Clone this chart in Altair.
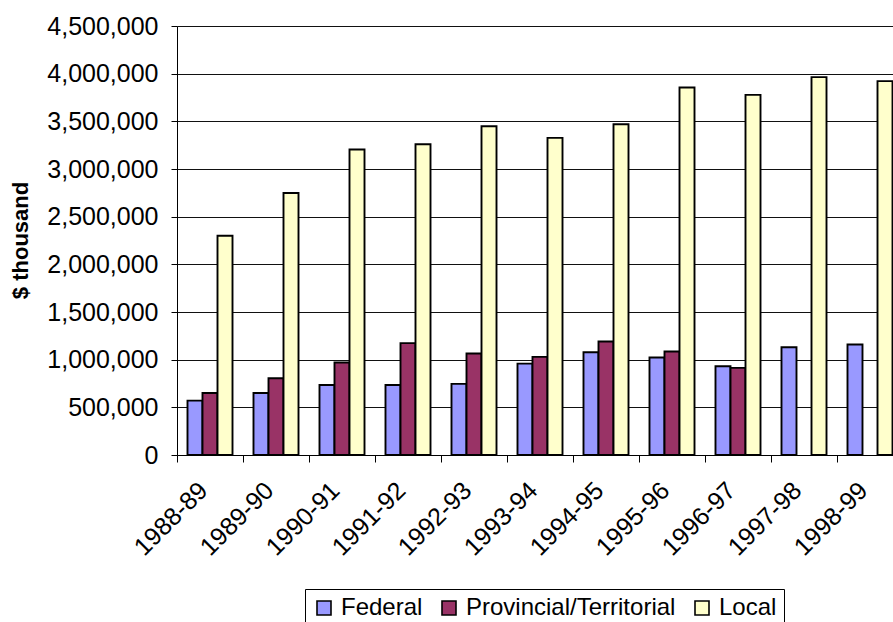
import altair as alt
import pandas as pd

# Expenditure by level of government, $ thousand
years = ["1988-89", "1989-90", "1990-91", "1991-92", "1992-93", "1993-94",
         "1994-95", "1995-96", "1996-97", "1997-98", "1998-99"]
federal = [570000, 651000, 735000, 735000, 746000, 959000,
           1078000, 1022000, 931000, 1131000, 1159000]
provincial = [651000, 805000, 970000, 1173000, 1064000, 1029000,
              1190000, 1085000, 914000, None, None]
local = [2300000, 2749000, 3204000, 3260000, 3449000, 3326000,
         3470000, 3855000, 3778000, 3964000, 3922000]

levels = ["Federal", "Provincial/Territorial", "Local"]
colors = ["#9999FF", "#993366", "#FFFFCC"]
y_ticks = [0, 500000, 1000000, 1500000, 2000000, 2500000,
           3000000, 3500000, 4000000, 4500000]

rows = []
for i, yr in enumerate(years):
    for lvl, series in zip(levels, [federal, provincial, local]):
        if series[i] is not None:
            rows.append({"year": yr, "level": lvl, "value": series[i]})
df = pd.DataFrame(rows)

FONT = "Liberation Sans"
STEP = 66  # width of one year's slot on the category axis

chart = alt.Chart(df).mark_bar(stroke="black", strokeWidth=1.9).encode(
    x=alt.X("year:N", sort=years,
            scale=alt.Scale(domain=years, range=[0, STEP * len(years)],
                            paddingInner=0.318, paddingOuter=0.159),
            axis=alt.Axis(title=None, labelAngle=-45, labelAlign="right",
                          labelBaseline="middle",
                          tickOffset=-STEP / 2, labelOffset=STEP / 2 - 7,
                          labelFontSize=25, labelFont=FONT, labelColor="black",
                          tickColor="black", domainColor="black",
                          tickSize=7, labelPadding=24, grid=False)),
    xOffset=alt.XOffset("level:N", sort=levels,
                        scale=alt.Scale(domain=levels, paddingInner=0,
                                        paddingOuter=0)),
    y=alt.Y("value:Q",
            scale=alt.Scale(domain=[0, 4500000], nice=False),
            axis=alt.Axis(values=y_ticks, format=",d", title="$ thousand",
                          titleFont=FONT, titleFontSize=22, titleFontWeight="bold",
                          titleColor="black", titleX=-157, titleY=214,
                          titleAlign="center", titleBaseline="middle",
                          labelFont=FONT, labelFontSize=25, labelColor="black",
                          labelPadding=13, tickSize=6, tickColor="black",
                          domainColor="black", gridColor="#111111",
                          gridWidth=1)),
    color=alt.Color("level:N", sort=levels,
                    scale=alt.Scale(domain=levels, range=colors),
                    legend=alt.Legend(title=None, orient="none",
                                      direction="horizontal",
                                      legendX=128, legendY=563,
                                      symbolType="square", symbolSize=196,
                                      symbolStrokeColor="black",
                                      symbolStrokeWidth=1.6,
                                      symbolOpacity=1,
                                      labelFont=FONT, labelFontSize=24,
                                      labelColor="black", labelOffset=5,
                                      labelLimit=0,
                                      columnPadding=14, padding=7,
                                      strokeColor="black",
                                      fillColor="white")),
).properties(
    width=716,
    height=429,
    autosize=alt.AutoSizeParams(type="none"),
    padding={"left": 177, "top": 26, "right": 0, "bottom": 167},
).configure_view(stroke=None).configure(background="white")

chart.save("out.html", embed_options={"renderer": "svg", "actions": False})
